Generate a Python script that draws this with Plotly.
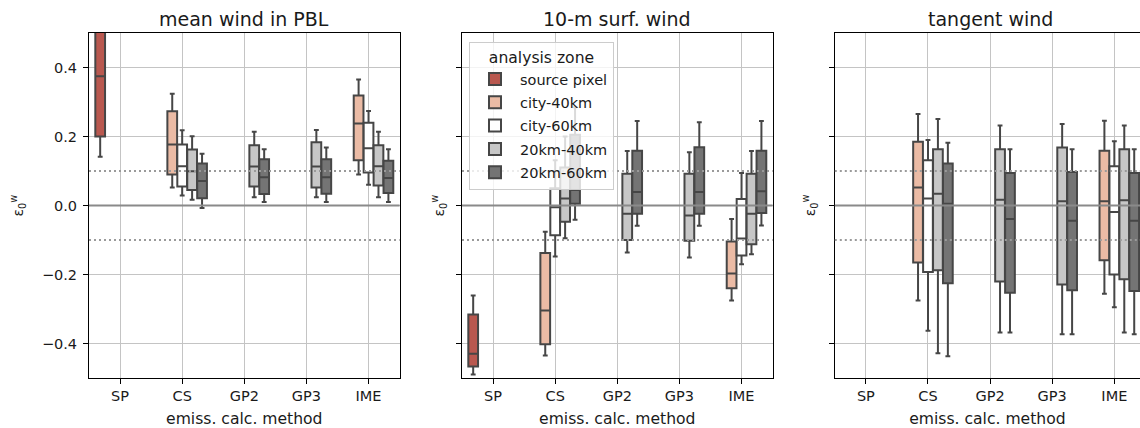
import plotly.graph_objects as go

# ---------------- data ----------------
methods = ["SP", "CS", "GP2", "GP3", "IME"]
zones = ["source pixel", "city-40km", "city-60km", "20km-40km", "20km-60km"]
panel_titles = ["mean wind in PBL", "10-m surf. wind", "tangent wind"]
y_ticks = [-0.4, -0.2, 0.0, 0.2, 0.4]
zero_level = [0.0]
tolerance_levels = [0.1, -0.1]

N = None
# rows = zones, columns = methods (whisker low, Q1, median, Q3, whisker high)
pbl_low = [[0.141, N, N, N, N],
           [N, 0.052, N, N, 0.090],
           [N, 0.029, N, N, 0.060],
           [N, 0.017, 0.024, 0.024, 0.024],
           [N, -0.007, 0.010, 0.010, 0.010]]
pbl_q1 = [[0.200, N, N, N, N],
          [N, 0.090, N, N, 0.131],
          [N, 0.055, N, N, 0.096],
          [N, 0.045, 0.055, 0.052, 0.058],
          [N, 0.021, 0.033, 0.034, 0.036]]
pbl_med = [[0.375, N, N, N, N],
           [N, 0.177, N, N, 0.238],
           [N, 0.114, N, N, 0.166],
           [N, 0.099, 0.113, 0.113, 0.114],
           [N, 0.071, 0.082, 0.082, 0.080]]
pbl_q3 = [[0.530, N, N, N, N],
          [N, 0.273, N, N, 0.319],
          [N, 0.177, N, N, 0.240],
          [N, 0.162, 0.175, 0.183, 0.175],
          [N, 0.122, 0.134, 0.134, 0.130]]
pbl_high = [[0.620, N, N, N, N],
            [N, 0.324, N, N, 0.365],
            [N, 0.218, N, N, 0.274],
            [N, 0.201, 0.214, 0.219, 0.214],
            [N, 0.150, 0.163, 0.168, 0.163]]

surf_low = [[-0.490, N, N, N, N],
            [N, -0.435, N, N, -0.275],
            [N, -0.148, N, N, -0.170],
            [N, -0.095, -0.136, -0.151, -0.141],
            [N, -0.041, -0.059, -0.059, -0.058]]
surf_q1 = [[-0.467, N, N, N, N],
           [N, -0.402, N, N, -0.240],
           [N, -0.086, N, N, -0.145],
           [N, -0.047, -0.100, -0.102, -0.112],
           [N, 0.005, -0.024, -0.024, -0.022]]
surf_med = [[-0.430, N, N, N, N],
            [N, -0.304, N, N, -0.197],
            [N, -0.005, N, N, -0.096],
            [N, 0.020, -0.024, -0.029, -0.024],
            [N, 0.045, 0.039, 0.039, 0.041]]
surf_q3 = [[-0.316, N, N, N, N],
           [N, -0.138, N, N, -0.104],
           [N, 0.050, N, N, 0.019],
           [N, 0.110, 0.092, 0.092, 0.092],
           [N, 0.205, 0.159, 0.169, 0.159]]
surf_high = [[-0.261, N, N, N, N],
             [N, -0.076, N, N, -0.039],
             [N, 0.131, N, N, 0.094],
             [N, 0.200, 0.158, 0.154, 0.158],
             [N, 0.285, 0.245, 0.241, 0.245]]

tan_low = [[N, N, N, N, N],
           [N, -0.275, N, N, -0.256],
           [N, -0.363, N, N, -0.295],
           [N, -0.428, -0.368, -0.373, -0.368],
           [N, -0.437, -0.368, -0.373, -0.373]]
tan_q1 = [[N, N, N, N, N],
          [N, -0.165, N, N, -0.159],
          [N, -0.193, N, N, -0.200],
          [N, -0.188, -0.220, -0.229, -0.214],
          [N, -0.225, -0.253, -0.246, -0.248]]
tan_med = [[N, N, N, N, N],
           [N, 0.052, N, N, 0.012],
           [N, 0.020, N, N, -0.019],
           [N, 0.034, 0.017, 0.012, 0.015],
           [N, 0.005, -0.039, -0.044, -0.044]]
tan_q3 = [[N, N, N, N, N],
          [N, 0.185, N, N, 0.159],
          [N, 0.131, N, N, 0.114],
          [N, 0.163, 0.163, 0.168, 0.163],
          [N, 0.122, 0.094, 0.097, 0.094]]
tan_high = [[N, N, N, N, N],
            [N, 0.265, N, N, 0.246],
            [N, 0.190, N, N, 0.186],
            [N, 0.251, 0.232, 0.236, 0.232],
            [N, 0.182, 0.163, 0.163, 0.163]]

# ---------------- styles ----------------
zone_colors = ["#b9584f", "#ebbba5", "#ffffff", "#c7c7c7", "#747474"]
edge_color = "#464646"
FONT = "DejaVu Sans"
TXT = "#1a1a1a"

panels = [
    (pbl_low, pbl_q1, pbl_med, pbl_q3, pbl_high),
    (surf_low, surf_q1, surf_med, surf_q3, surf_high),
    (tan_low, tan_q1, tan_med, tan_q3, tan_high),
]

fig = go.Figure()
for p, (lo, q1, med, q3, hi) in enumerate(panels):
    ax = "" if p == 0 else str(p + 1)
    for k, zone in enumerate(zones):
        idx = [j for j in range(len(methods)) if med[k][j] is not None]
        common = dict(name=zone, legendgroup=zone, offsetgroup=zone,
                      showlegend=(p == 0), fillcolor=zone_colors[k],
                      line=dict(color=edge_color, width=2),
                      whiskerwidth=0.5, boxpoints=False,
                      xaxis="x" + ax, yaxis="y" + ax)
        if idx:
            fig.add_trace(go.Box(
                x=[methods[j] for j in idx],
                lowerfence=[lo[k][j] for j in idx],
                q1=[q1[k][j] for j in idx],
                median=[med[k][j] for j in idx],
                q3=[q3[k][j] for j in idx],
                upperfence=[hi[k][j] for j in idx],
                **common))
        else:
            # zone without any value in this panel: keeps its (empty) dodge slot
            fig.add_trace(go.Box(x=methods, y=[None] * len(methods), **common))

# ---------------- layout ----------------
W, H = 1140, 428
ml, mr, mt, mb = 89, 0, 33, 50.3
pw = W - ml - mr
pan_w = 310.6
lefts = [89.0, 462.0, 834.8]
cat_px = pan_w / 5

axis_common = dict(showline=True, linecolor="black", linewidth=1, mirror=True,
                   showgrid=True, gridcolor="#c4c4c4", gridwidth=1,
                   ticks="outside", ticklen=5, tickwidth=1, tickcolor="black",
                   zeroline=False)

layout_axes = {}
for p in range(3):
    ax = "" if p == 0 else str(p + 1)
    d0 = (lefts[p] - ml) / pw
    d1 = min(1.0, (lefts[p] + pan_w - ml) / pw)
    right_val = -0.5 + (min(W, lefts[p] + pan_w) - lefts[p]) / cat_px
    layout_axes["xaxis" + ax] = dict(
        axis_common, domain=[d0, d1], type="category",
        categoryorder="array", categoryarray=methods,
        range=[-0.5, right_val], anchor="y" + ax,
        tickfont=dict(size=14.5, color=TXT, family=FONT),
        title=dict(text="emiss. calc. method", standoff=9,
                   font=dict(size=15.6, color=TXT, family=FONT)),
    )
    yax = dict(axis_common, domain=[0, 1], range=[-0.5, 0.5], anchor="x" + ax,
               tickvals=y_ticks, tickformat=".1f", ticklabelstandoff=3,
               showticklabels=(p == 0),
               tickfont=dict(size=14.5, color=TXT, family=FONT))
    if p == 2:
        yax["mirror"] = False
    layout_axes["yaxis" + ax] = yax

annotations = []
shapes = []
ylab_shift = [-71, -23, -25]
for p in range(3):
    ax = "" if p == 0 else str(p + 1)
    xr = "x" + ax + " domain"
    vis_w = min(W, lefts[p] + pan_w) - lefts[p]
    annotations.append(dict(text=panel_titles[p], x=0.5 * pan_w / vis_w,
                            xref=xr, y=1, yref="y" + ax + " domain",
                            yanchor="middle", yshift=14, showarrow=False,
                            font=dict(size=19, color=TXT, family=FONT)))
    annotations.append(dict(text="ε<sub>0</sub><sup>w</sup>", x=0, xref=xr,
                            y=0.5, yref="y" + ax + " domain", xanchor="center",
                            xshift=ylab_shift[p], textangle=-90, showarrow=False,
                            font=dict(size=14, color=TXT, family=FONT)))
    for lv in zero_level:
        shapes.append(dict(type="line", xref=xr, x0=0, x1=1, yref="y" + ax,
                           y0=lv, y1=lv, line=dict(color="#8a8a8a", width=2)))
    for lv in tolerance_levels:
        shapes.append(dict(type="line", xref=xr, x0=0, x1=1, yref="y" + ax,
                           y0=lv, y1=lv,
                           line=dict(color="#9a9a9a", width=2, dash="2px,3px")))

fig.update_layout(
    width=W, height=H, autosize=False,
    margin=dict(l=ml, r=mr, t=mt, b=mb, pad=0),
    paper_bgcolor="white", plot_bgcolor="white",
    font=dict(family=FONT, color=TXT),
    boxmode="group", boxgap=0.2, boxgroupgap=0.02,
    annotations=annotations, shapes=shapes,
    legend=dict(x=(469 - ml) / pw, y=1 - (41.7 - mt) / (H - mt - mb),
                xanchor="left", yanchor="top", itemwidth=40,
                bgcolor="rgba(255,255,255,0.8)", bordercolor="#cccccc",
                borderwidth=1, tracegroupgap=1.5,
                font=dict(size=14.5, color=TXT, family=FONT),
                title=dict(text="analysis zone", side="top center",
                           font=dict(size=15.6, color=TXT, family=FONT))),
    **layout_axes,
)

fig.write_html("out.html",
               config={"displayModeBar": False},
               post_script="document.body.style.margin='0px';"
                           "document.body.style.overflow='hidden';")
